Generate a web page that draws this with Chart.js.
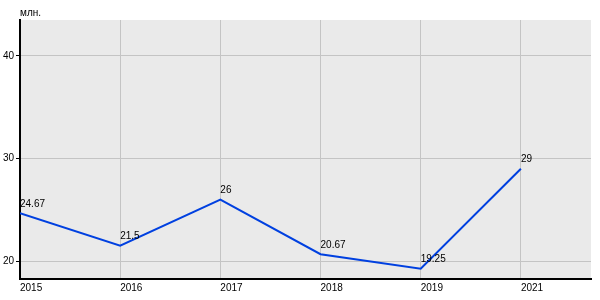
<!DOCTYPE html>
<html>
<head>
<meta charset="utf-8">
<script src="https://cdn.jsdelivr.net/npm/chart.js@4/dist/chart.umd.min.js"></script>
<style>
  html, body { margin: 0; padding: 0; background: #fff; }
  #wrap { width: 600px; height: 300px; }
</style>
</head>
<body>
<div id="wrap"><canvas id="myChart"></canvas></div>
<script>
var years = ['2015', '2016', '2017', '2018', '2019', '2021'];
var values = [24.67, 21.5, 26, 20.67, 19.25, 29];
var unitLabel = 'млн.';

var points = values.map(function (v, i) { return { x: i, y: v }; });

var plotBg = {
  id: 'plotBg',
  beforeDraw: function (chart) {
    var a = chart.chartArea, c = chart.ctx;
    c.save();
    c.fillStyle = '#eaeaea';
    c.fillRect(a.left, a.top, a.right - a.left, a.bottom - a.top);
    c.restore();
  }
};

var labelsPlugin = {
  id: 'pointLabels',
  afterDatasetsDraw: function (chart) {
    var c = chart.ctx;
    var meta = chart.getDatasetMeta(0);
    c.save();
    c.font = '10px "Liberation Sans", Arial, sans-serif';
    c.fillStyle = '#000';
    c.textAlign = 'left';
    c.textBaseline = 'bottom';
    meta.data.forEach(function (pt, i) {
      c.fillText(String(values[i]), pt.x, pt.y - 4);
    });
    c.fillText(unitLabel, chart.chartArea.left, chart.chartArea.top - 2);
    c.restore();
  }
};

var ctx = document.getElementById('myChart');
var myChart = new Chart(ctx, {
  type: 'line',
  data: {
    datasets: [
      {
        data: points,
        borderColor: 'rgb(0, 64, 224)',
        borderWidth: 2,
        pointRadius: 0,
        tension: 0,
        fill: false
      }
    ]
  },
  options: {
    responsive: true,
    maintainAspectRatio: false,
    animation: false,
    layout: {
      padding: { left: 0, right: 9, top: 20, bottom: 0 }
    },
    plugins: {
      legend: { display: false },
      tooltip: { enabled: false }
    },
    scales: {
      x: {
        type: 'linear',
        min: 0,
        max: 5.7,
        afterFit: function (s) { s.height = 21; },
        afterBuildTicks: function (s) {
          s.ticks = years.map(function (y, i) { return { value: i }; });
        },
        ticks: {
          callback: function (v) { return years[v]; },
          align: 'start',
          autoSkip: false,
          maxRotation: 0,
          padding: 3,
          color: '#000',
          font: { family: '"Liberation Sans", Arial, sans-serif', size: 10 }
        },
        grid: { color: '#c4c4c4', lineWidth: 1, drawTicks: false },
        border: { color: '#000', width: 2 }
      },
      y: {
        min: 18.25,
        max: 43.5,
        afterFit: function (s) { s.width = 20; },
        ticks: {
          stepSize: 10,
          includeBounds: false,
          color: '#000',
          padding: 2,
          font: { family: '"Liberation Sans", Arial, sans-serif', size: 10 }
        },
        grid: { color: '#c4c4c4', lineWidth: 1, tickColor: '#000', tickLength: 4 },
        border: { color: '#000', width: 2 }
      }
    }
  },
  plugins: [plotBg, labelsPlugin]
});
</script>
</body>
</html>
